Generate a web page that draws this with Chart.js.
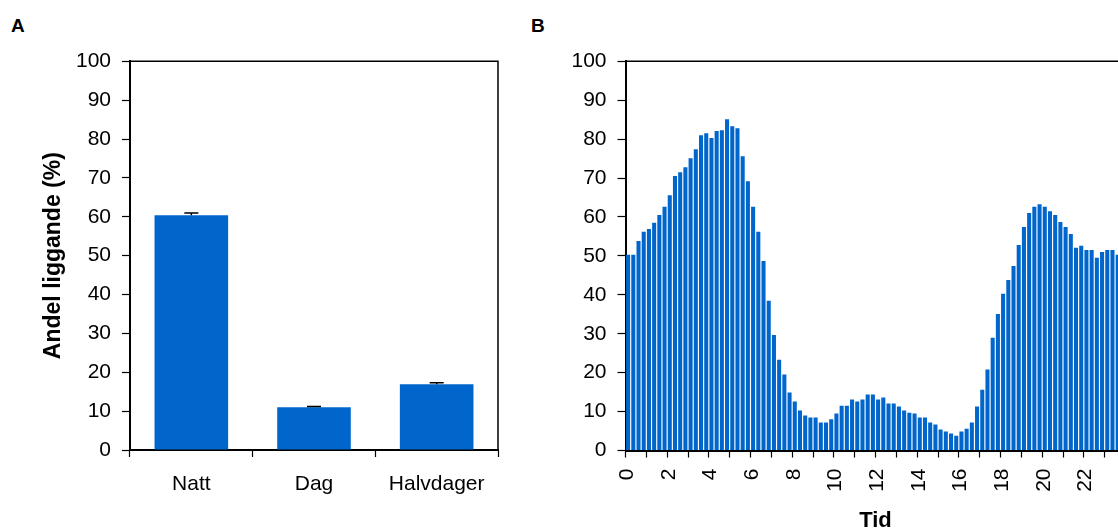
<!DOCTYPE html>
<html>
<head>
  <title>Andel liggande</title>
  <style>
    body {
      margin: 0;
      background-color: #FFF;
      overflow: hidden;
      font-family: Arial, "Liberation Sans", sans-serif;
    }

    .panel {
      position: absolute;
      top: 16px;
      font-size: 19px;
      line-height: 19px;
      font-weight: bold;
      color: #000;
    }

    #chartA {
      position: absolute;
      left: 0;
      top: 0;
    }

    #chartB {
      position: absolute;
      left: 520px;
      top: 0;
    }
  </style>
</head>
<body>
  <div class="panel" style="left: 11px;">A</div>
  <div class="panel" style="left: 531px;">B</div>

  <canvas id="chartA" width="520" height="531"></canvas>
  <canvas id="chartB" width="640" height="531"></canvas>

  <script src="https://cdn.jsdelivr.net/npm/chart.js"></script>

  <script>
    // Panel A: mean share lying per period, with upper error bars
    var kategorier = ['Natt', 'Dag', 'Halvdager'];
    var andel = [60.4, 11.0, 16.9];
    var feil = [0.6, 0.2, 0.4];

    // Panel B: share lying per 15 minutes through the day
    var tider = [];
    for (var t = 0; t < 96; t++) {
      tider.push(t / 4);
    }
    var andelTid = [
      50.3, 50.3, 53.8, 56.2, 56.9, 58.5, 60.5, 62.6, 65.6, 70.5, 71.5, 72.8,
      75.1, 77.4, 81.0, 81.5, 80.3, 82.1, 82.3, 85.1, 83.3, 82.8, 75.6, 69.2,
      62.6, 56.2, 48.7, 38.5, 29.7, 23.3, 19.5, 14.9, 12.6, 10.3, 9.0, 8.5,
      8.5, 7.2, 7.2, 8.0, 9.5, 11.5, 11.5, 13.1, 12.6, 13.1, 14.4, 14.4,
      13.1, 13.6, 12.1, 12.1, 11.3, 10.3, 9.7, 9.5, 8.5, 8.5, 7.2, 6.7,
      5.4, 4.9, 4.4, 3.8, 4.9, 5.6, 7.2, 11.3, 15.6, 20.8, 29.0, 35.1,
      40.3, 43.8, 47.4, 52.8, 57.4, 61.0, 62.6, 63.3, 62.6, 61.5, 60.5, 58.7,
      57.4, 55.6, 52.1, 52.6, 51.5, 51.5, 49.5, 51.0, 51.5, 51.5, 50.3, 50.3
    ];

    var blue = '#0066CC';
    var fontFamily = 'Arial, "Liberation Sans", sans-serif';

    // top and right frame lines around the plot area
    var rammePlugin = {
      id: 'ramme',
      afterDraw: function(chart) {
        var ctx = chart.ctx;
        var a = chart.chartArea;
        ctx.save();
        ctx.strokeStyle = '#000';
        ctx.lineWidth = 1.5;
        ctx.beginPath();
        ctx.moveTo(a.left, a.top);
        ctx.lineTo(a.right, a.top);
        ctx.lineTo(a.right, a.bottom);
        ctx.stroke();
        ctx.restore();
      }
    };

    // plus-only error bars for panel A
    var feilPlugin = {
      id: 'feil',
      afterDatasetsDraw: function(chart) {
        var ctx = chart.ctx;
        var meta = chart.getDatasetMeta(0);
        var yScale = chart.scales.y;
        ctx.save();
        ctx.strokeStyle = '#000';
        ctx.lineWidth = 1.5;
        meta.data.forEach(function(bar, i) {
          var yVal = yScale.getPixelForValue(andel[i]);
          var yTop = yScale.getPixelForValue(andel[i] + feil[i]);
          ctx.beginPath();
          ctx.moveTo(bar.x, yVal);
          ctx.lineTo(bar.x, yTop);
          ctx.moveTo(bar.x - 7, yTop);
          ctx.lineTo(bar.x + 7, yTop);
          ctx.stroke();
        });
        ctx.restore();
      }
    };

    function yAxis(width, title) {
      return {
        min: 0,
        max: 100,
        ticks: {
          stepSize: 10,
          color: '#000',
          padding: 11,
          font: { family: fontFamily, size: 21 }
        },
        grid: {
          drawOnChartArea: false,
          drawTicks: true,
          tickLength: 8,
          tickColor: '#000',
          tickWidth: 1.2
        },
        border: { color: '#000', width: 2 },
        title: title,
        afterFit: function(scale) { scale.width = width; }
      };
    }

    new Chart(document.getElementById('chartA'), {
      type: 'bar',
      data: {
        labels: kategorier,
        datasets: [{
          data: andel,
          backgroundColor: blue,
          borderWidth: 0,
          barPercentage: 0.6,
          categoryPercentage: 1.0
        }]
      },
      options: {
        responsive: false,
        animation: false,
        devicePixelRatio: 1,
        layout: { padding: { left: 36, top: 61.3, right: 22, bottom: 0 } },
        plugins: { legend: { display: false }, tooltip: { enabled: false } },
        scales: {
          x: {
            ticks: {
              color: '#000',
              padding: 15,
              maxRotation: 0,
              font: { family: fontFamily, size: 21 }
            },
            grid: {
              drawOnChartArea: false,
              tickLength: 7,
              tickColor: '#000',
              tickWidth: 1.2
            },
            border: { color: '#000', width: 2 },
            afterFit: function(scale) { scale.height = 81; }
          },
          y: yAxis(94, {
            display: true,
            text: 'Andel liggande (%)',
            color: '#000',
            padding: { top: 4, bottom: 4 },
            font: { family: fontFamily, size: 23, weight: 'bold' }
          })
        }
      },
      plugins: [rammePlugin, feilPlugin]
    });

    new Chart(document.getElementById('chartB'), {
      type: 'bar',
      data: {
        labels: tider,
        datasets: [{
          data: andelTid,
          backgroundColor: blue,
          borderWidth: 0,
          barPercentage: 0.78,
          categoryPercentage: 1.0
        }]
      },
      options: {
        responsive: false,
        animation: false,
        devicePixelRatio: 1,
        layout: { padding: { left: 0, top: 61.3, right: 34.5, bottom: 0 } },
        plugins: { legend: { display: false }, tooltip: { enabled: false } },
        scales: {
          x: {
            ticks: {
              color: '#000',
              padding: 11,
              autoSkip: false,
              minRotation: 90,
              maxRotation: 90,
              labelOffset: -1,
              font: { family: fontFamily, size: 21 },
              callback: function(value, index) {
                return index % 8 === 0 ? String(index / 4) : '';
              }
            },
            grid: {
              drawOnChartArea: false,
              tickLength: 7,
              tickWidth: 1.2,
              tickColor: function(ctx) {
                return ctx.index % 4 === 0 ? '#000' : 'rgba(0,0,0,0)';
              }
            },
            border: { color: '#000', width: 2 },
            title: {
              display: true,
              text: 'Tid',
              color: '#000',
              padding: { top: 0, bottom: 0 },
              font: { family: fontFamily, size: 22, weight: 'bold', lineHeight: 0.9 }
            },
            afterFit: function(scale) { scale.height = 80.5; }
          },
          y: yAxis(105.5, { display: false })
        }
      },
      plugins: [rammePlugin]
    });
  </script>
</body>
</html>
